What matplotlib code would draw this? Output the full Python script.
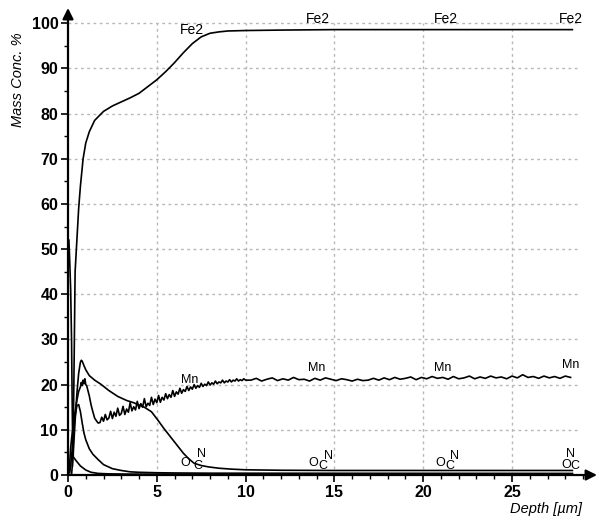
import matplotlib
matplotlib.use("Agg")
import matplotlib.pyplot as plt
from matplotlib.ticker import MultipleLocator

plt.rcParams['font.family'] = ['Liberation Sans', 'DejaVu Sans']

# depth profiles (mass conc. %)
fe_depth = [0.25, 0.3, 0.35, 0.4, 0.5, 0.6, 0.7, 0.85, 1.0, 1.2, 1.5, 2.0, 2.5, 3.0, 3.5,
            4.0, 4.5, 5.0, 5.5, 6.0, 6.5, 7.0, 7.5, 8.0, 8.5, 9.0, 10.0, 12.0, 15.0, 20.0, 28.4]
fe_conc = [2, 10, 27, 45, 52, 59, 64, 70, 73.5, 76, 78.5, 80.5, 81.7, 82.6, 83.5,
           84.5, 86, 87.5, 89.3, 91.3, 93.5, 95.5, 97, 97.8, 98.1, 98.3, 98.4, 98.5, 98.6, 98.6, 98.6]

mn_depth = [0.05, 0.1, 0.15, 0.2, 0.3, 0.4, 0.5, 0.6, 0.7, 0.75, 0.8, 0.85, 0.9, 0.95, 1.0,
            1.05, 1.1, 1.2, 1.3, 1.4, 1.5, 1.6, 1.7,
            1.8, 1.9, 2.0, 2.1, 2.2, 2.3, 2.4, 2.5, 2.6, 2.7, 2.8, 2.9, 3.0, 3.1, 3.2, 3.3,
            3.4, 3.5, 3.6, 3.7, 3.8, 3.9, 4.0, 4.1, 4.2, 4.3, 4.4, 4.5, 4.6, 4.7, 4.8, 4.9,
            5.0, 5.1, 5.2, 5.3, 5.4, 5.5, 5.6, 5.7, 5.8, 5.9, 6.0, 6.1, 6.2, 6.3, 6.4, 6.5,
            6.6, 6.7, 6.8, 6.9, 7.0, 7.1, 7.2, 7.3, 7.4, 7.5, 7.6, 7.7, 7.8, 7.9, 8.0, 8.1,
            8.2, 8.3, 8.4, 8.5, 8.6, 8.7, 8.8, 8.9, 9.0, 9.1, 9.2, 9.3, 9.4, 9.5, 9.6, 9.7,
            9.8, 9.9, 10.0,
            10.3, 10.6, 10.9, 11.2, 11.5, 11.8, 12.1, 12.4, 12.7, 13.0, 13.3, 13.6, 13.9, 14.2,
            14.5, 14.8, 15.1, 15.4, 15.7, 16.0, 16.3, 16.6, 16.9, 17.2, 17.5, 17.8, 18.1, 18.4,
            18.7, 19.0, 19.3, 19.6, 19.9, 20.2, 20.5, 20.8, 21.1, 21.4, 21.7, 22.0, 22.3, 22.6,
            22.9, 23.2, 23.5, 23.8, 24.1, 24.4, 24.7, 25.0, 25.3, 25.6, 25.9, 26.2, 26.5, 26.8,
            27.1, 27.4, 27.7, 28.0, 28.3]
mn_conc = [0.5, 3, 6, 8, 11, 14, 16.5, 18.5, 19.5, 20.5, 19.8, 21, 20.2, 21.3, 20,
           19.8, 19, 17.5, 15.5, 14, 12.6, 12, 11.5,
           11.6, 12.8, 11.9, 13.4, 12.2, 12.6, 14.1, 12.5, 13.9, 13.0, 14.8, 13.2, 13.6, 15.2, 13.4, 14.6,
           13.9, 16.0, 14.2, 15.1, 14.4, 16.3, 14.7, 15.8, 15.0, 16.9, 15.1, 15.9, 15.4, 17.2, 15.6, 16.8,
           16.0, 17.6, 16.1, 17.2, 16.6, 18.0, 16.9, 17.8, 17.2, 18.7, 17.4, 18.4, 17.9, 19.2, 18.1, 18.9,
           18.5, 19.6, 18.7, 19.5, 19.0, 20.0, 19.2, 19.8, 19.4, 20.3, 19.6, 20.1, 19.8, 20.6, 19.9, 20.4,
           20.1, 20.8, 20.2, 20.6, 20.4, 21.0, 20.4, 20.8, 20.6, 21.1, 20.6, 21.0, 20.8, 21.3, 20.8, 21.1,
           20.9, 21.3, 21.0,
           21.0, 21.4, 20.8, 21.2, 21.5, 20.9, 21.3, 21.0, 21.6, 21.1, 21.2, 20.8, 21.4, 21.0,
           21.5, 21.2, 20.9, 21.3, 21.1, 20.8, 21.2, 20.9, 21.0, 21.4, 21.0, 21.5, 21.1, 21.6,
           21.2, 21.4, 21.7, 21.1, 21.6, 21.3, 21.8, 21.4, 21.6, 21.2, 21.8, 21.3, 21.5, 21.9,
           21.3, 21.7, 21.4, 21.9, 21.5, 21.7, 21.3, 21.9, 21.5, 22.2, 21.6, 21.8, 21.4, 21.9,
           21.5, 21.8, 21.4, 21.9, 21.6]

n_depth = [0.2, 0.3, 0.4, 0.5, 0.6, 0.7, 0.75, 0.8, 0.9, 1.0, 1.2, 1.5, 1.85, 2.3, 2.8, 3.3,
           3.7, 4.3, 4.7, 5.05, 5.4, 5.8, 6.2, 6.5, 6.8, 7.1, 7.5, 7.9, 8.5, 9.2, 10.0, 12.0,
           15.0, 20.0, 28.4]
n_conc = [0, 5, 12, 18, 22.5, 25, 25.4, 25.2, 24.2, 23.3, 22, 21, 20.1, 18.7, 17.4, 16.5,
          16, 15, 14, 12.2, 10.3, 8.3, 6.3, 4.8, 3.6, 2.6, 2.1, 1.8, 1.5, 1.3, 1.15, 1.05,
          1.0, 1.0, 1.0]

c_depth = [0.1, 0.2, 0.3, 0.4, 0.5, 0.6, 0.7, 0.8, 0.9, 1.0, 1.2, 1.4, 1.7, 2.0, 2.5, 3.0,
           3.5, 4.0, 5.0, 6.0, 8.0, 28.4]
c_conc = [0.5, 4, 9, 13, 15.3, 15.6, 14, 11.5, 9.3, 7.8, 5.8, 4.6, 3.4, 2.3, 1.4, 1.0,
          0.7, 0.6, 0.5, 0.45, 0.4, 0.35]

o_depth = [0.05, 0.1, 0.15, 0.2, 0.23, 0.26, 0.3, 0.45, 0.7, 1.0, 1.3, 1.7, 2.3, 3.5, 28.4]
o_conc = [52, 47, 41, 30, 18, 8, 4.0, 3.2, 2.0, 1.1, 0.6, 0.35, 0.25, 0.2, 0.2]

# curve labels: (text, depth, conc)
curve_labels = [
    ("Fe2", 6.98, 98.5), ("Fe2", 14.1, 101), ("Fe2", 21.3, 101), ("Fe2", 28.3, 101),
    ("Mn", 6.87, 21.0), ("Mn", 14.0, 23.6), ("Mn", 21.1, 23.6), ("Mn", 28.3, 24.3),
    ("O", 6.6, 2.6), ("C", 7.3, 2.0), ("N", 7.5, 4.6),
    ("O", 13.8, 2.6), ("C", 14.35, 2.0), ("N", 14.65, 4.2),
    ("O", 20.95, 2.6), ("C", 21.5, 2.0), ("N", 21.75, 4.2),
    ("O", 28.05, 2.2), ("C", 28.55, 2.0), ("N", 28.3, 4.6),
]

fig = plt.figure(figsize=(5.99, 5.21), dpi=100)
ax = fig.add_axes([68 / 599, 46 / 521, 529 / 599, 467 / 521])
ax.set_xlim(0, 529 / 17.76)
ax.set_ylim(0, 467 / 4.517)

# dotted grid only over the data area
for gx in [5, 10, 15, 20, 25]:
    ax.plot([gx, gx], [0, 100], color='#b8b8b8', lw=1.0, ls=(0, (2, 2.5)), zorder=1)
for gy in range(10, 101, 10):
    ax.plot([0, 28.8], [gy, gy], color='#b8b8b8', lw=1.0, ls=(0, (2, 2.5)), zorder=1)

ax.plot(fe_depth, fe_conc, color='black', lw=1.2, zorder=3)
ax.plot(mn_depth, mn_conc, color='black', lw=1.2, zorder=3)
ax.plot(n_depth, n_conc, color='black', lw=1.2, zorder=3)
ax.plot(c_depth, c_conc, color='black', lw=1.2, zorder=3)
ax.plot(o_depth, o_conc, color='black', lw=1.2, zorder=3)

for txt, x, y in curve_labels:
    size = 10 if txt == "Fe2" else 9
    ax.text(x, y, txt, fontsize=size, ha='center', va='center', zorder=4)

for side in ['top', 'right', 'left', 'bottom']:
    ax.spines[side].set_visible(False)
ax.annotate('', xy=(1, 0), xytext=(0, 0), xycoords='axes fraction',
            arrowprops=dict(arrowstyle='-|>', color='black', lw=1.6, mutation_scale=16,
                            shrinkA=0, shrinkB=0))
ax.annotate('', xy=(0, 1), xytext=(0, 0), xycoords='axes fraction',
            arrowprops=dict(arrowstyle='-|>', color='black', lw=1.6, mutation_scale=16,
                            shrinkA=0, shrinkB=0))

ax.set_xticks([0, 5, 10, 15, 20, 25])
ax.set_yticks(range(0, 101, 10))
ax.xaxis.set_minor_locator(MultipleLocator(1))
ax.yaxis.set_minor_locator(MultipleLocator(5))
ax.tick_params(which='major', length=5, width=1.2, labelsize=11.5, pad=2)
ax.tick_params(which='minor', length=3, width=1.0)
for lab in ax.get_xticklabels() + ax.get_yticklabels():
    lab.set_fontweight('bold')

fig.text(18 / 599, 1 - 80 / 521, "Mass Conc. %", rotation=90, style='italic',
         fontsize=10.5, ha='center', va='center')
fig.text(546 / 599, 1 - 509 / 521, "Depth [\u00b5m]", style='italic',
         fontsize=10.5, ha='center', va='center')

fig.savefig("out.png", dpi=100)
